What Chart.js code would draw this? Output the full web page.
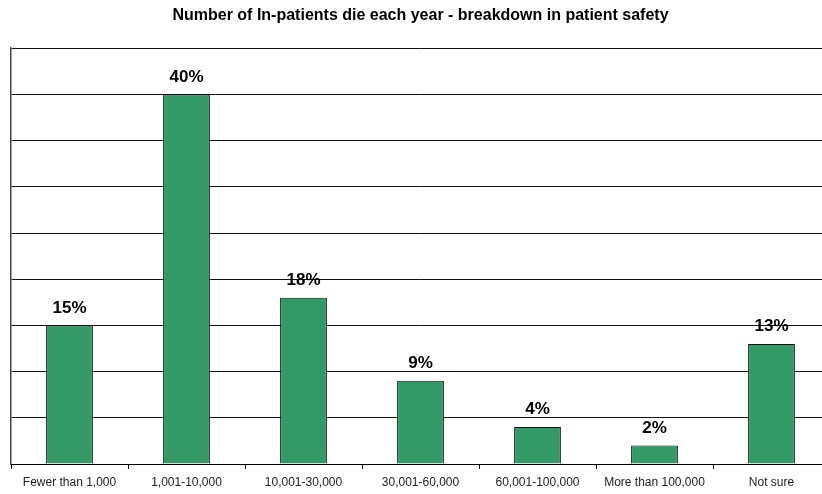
<!DOCTYPE html>
<html>
<head>
<meta charset="utf-8">
<script src="https://cdn.jsdelivr.net/npm/chart.js@4.4.1/dist/chart.umd.min.js"></script>
<style>
  html, body { margin: 0; padding: 0; background: #fff; overflow: hidden; }
  #wrap { width: 830px; height: 494px; }
</style>
</head>
<body>
<div id="wrap"><canvas id="myChart" width="830" height="494"></canvas></div>
<script>
const categories = ['Fewer than 1,000', '1,001-10,000', '10,001-30,000', '30,001-60,000', '60,001-100,000', 'More than 100,000', 'Not sure'];
const percents = [15, 40, 18, 9, 4, 2, 13];
const chartTitle = 'Number of In-patients die each year - breakdown in patient safety';

// draws the "15%" style labels above each bar
const barLabels = {
    id: 'barLabels',
    afterDatasetsDraw(chart) {
        const ctx = chart.ctx;
        const meta = chart.getDatasetMeta(0);
        ctx.save();
        ctx.font = 'bold 17px Arial, "Liberation Sans", sans-serif';
        ctx.fillStyle = '#000';
        ctx.textAlign = 'center';
        ctx.textBaseline = 'bottom';
        meta.data.forEach((bar, i) => {
            ctx.fillText(percents[i] + '%', bar.x, bar.y - 9);
        });
        ctx.restore();
    }
};

new Chart(document.getElementById('myChart'), {
    type: 'bar',
    data: {
        labels: categories,
        datasets: [{
            data: percents,
            backgroundColor: '#339966',
            borderColor: '#111',
            borderWidth: 1,
            barPercentage: 0.4,
            categoryPercentage: 1
        }]
    },
    options: {
        responsive: false,
        animation: false,
        layout: { padding: { left: 11, right: 0, top: 0, bottom: -3 } },
        plugins: {
            legend: { display: false },
            tooltip: { enabled: false },
            title: {
                display: true,
                text: chartTitle,
                color: '#000',
                font: { family: 'Arial, "Liberation Sans", sans-serif', size: 16, weight: 'bold' },
                padding: { top: 6, bottom: 23 }
            }
        },
        scales: {
            x: {
                grid: { display: true, drawOnChartArea: false, drawTicks: true, tickLength: 5, color: '#000', offset: true },
                border: { display: true, color: '#000', width: 1 },
                ticks: {
                    color: '#222',
                    padding: 8,
                    maxRotation: 0,
                    autoSkip: false,
                    font: { family: 'Arial, "Liberation Sans", sans-serif', size: 12, lineHeight: 1 }
                }
            },
            y: {
                min: 0,
                max: 45,
                ticks: { display: false, stepSize: 5 },
                grid: { color: '#111', lineWidth: 1, drawTicks: false },
                border: { display: true, color: '#444', width: 1.5 }
            }
        }
    },
    plugins: [barLabels]
});
</script>
</body>
</html>
